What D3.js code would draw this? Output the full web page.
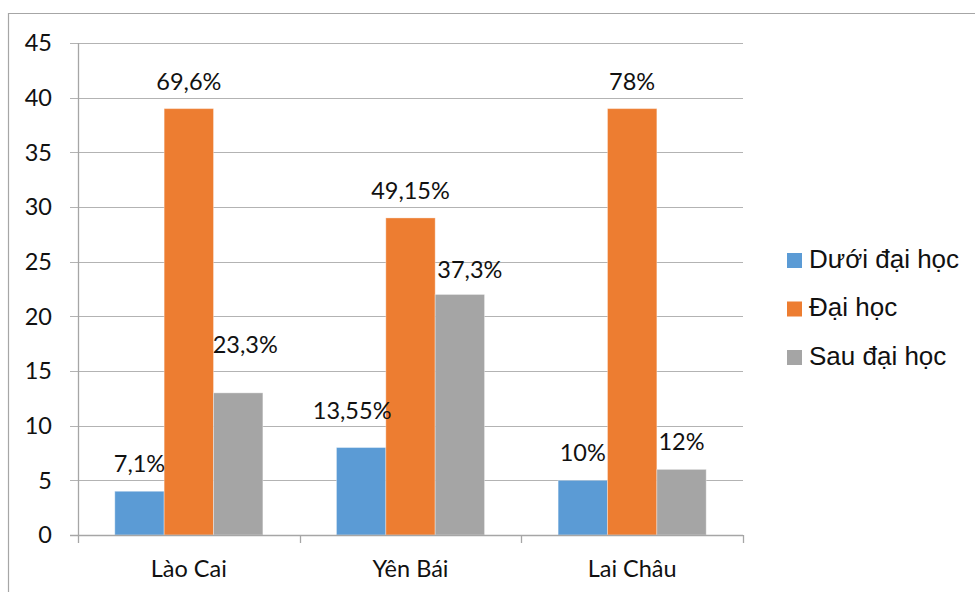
<!DOCTYPE html>
<html>
<head>
<meta charset="utf-8">
<script src="https://cdn.jsdelivr.net/npm/d3@7/dist/d3.min.js"></script>
<style>
  html, body { margin: 0; padding: 0; background: #fff; }
  svg { display: block; }
</style>
</head>
<body>
<svg id="chart" width="975" height="592"></svg>
<script>
// Provinces and education-level series
const provinces = ["Lào Cai", "Yên Bái", "Lai Châu"];
const seriesNames = ["Dưới đại học", "Đại học", "Sau đại học"];
const seriesColors = ["#5B9BD5", "#ED7D31", "#A5A5A5"];

// Counts per series, one value per province
const duoiDaiHoc = [4, 8, 5];
const daiHoc = [39, 29, 39];
const sauDaiHoc = [13, 22, 6];

// Percentage labels shown above each bar
const duoiDaiHocLabels = ["7,1%", "13,55%", "10%"];
const daiHocLabels = ["69,6%", "49,15%", "78%"];
const sauDaiHocLabels = ["23,3%", "37,3%", "12%"];

const yTicks = [0, 5, 10, 15, 20, 25, 30, 35, 40, 45];

const seriesValues = [duoiDaiHoc, daiHoc, sauDaiHoc];
const seriesLabels = [duoiDaiHocLabels, daiHocLabels, sauDaiHocLabels];

// Hand placed label nudges [series][province] -> [dx, extra lift]
const labelNudge = [
  [[0, 0], [-9, 10], [0, 0]],
  [[0, 0], [0, 0], [0, 0]],
  [[7, 21], [10, -3], [0, 0]]
];

const svg = d3.select("#chart");
const W = 975, H = 592;
const plot = { left: 78, right: 743, top: 43, bottom: 535 };
const numFont = "Lato, 'Open Sans', sans-serif";
const legFont = "'Liberation Sans', Arial, sans-serif";
const numSize = 23.5;

// Outer chart-area frame (top and left edges visible)
svg.append("path")
  .attr("d", `M8.5,${H} V13.5 H${W}`)
  .attr("fill", "none")
  .attr("stroke", "#a6a6a6")
  .attr("stroke-width", 1.2);

const y = d3.scaleLinear().domain([0, 45]).range([plot.bottom, plot.top]);
const x0 = d3.scaleBand().domain(provinces).range([plot.left, plot.right]).padding(0);
const gap = x0.bandwidth() * 0.166;
const x1 = d3.scaleBand().domain(seriesNames).range([gap, x0.bandwidth() - gap]).padding(0);

// Horizontal gridlines with left tick marks
svg.append("g")
  .selectAll("line")
  .data(yTicks.filter(t => t > 0))
  .join("line")
  .attr("x1", plot.left - 8)
  .attr("x2", plot.right)
  .attr("y1", d => Math.round(y(d)) + 0.5)
  .attr("y2", d => Math.round(y(d)) + 0.5)
  .attr("stroke", "#b3b3b3")
  .attr("stroke-width", 1.2);

// Y axis labels
svg.append("g")
  .selectAll("text")
  .data(yTicks)
  .join("text")
  .attr("x", 52)
  .attr("y", d => y(d))
  .attr("dy", "0.36em")
  .attr("text-anchor", "end")
  .attr("font-family", numFont)
  .attr("font-size", numSize)
  .attr("fill", "#111")
  .text(d => d);

// Bars
const groups = svg.append("g")
  .selectAll("g")
  .data(provinces)
  .join("g")
  .attr("transform", d => `translate(${x0(d)},0)`);

groups.selectAll("rect")
  .data((p, pi) => seriesNames.map((s, si) => ({ s, si, v: seriesValues[si][pi] })))
  .join("rect")
  .attr("x", d => x1(d.s))
  .attr("y", d => y(d.v))
  .attr("width", x1.bandwidth())
  .attr("height", d => y(0) - y(d.v))
  .attr("fill", d => seriesColors[d.si])
  .attr("stroke", "#ffffff")
  .attr("stroke-opacity", 0.35)
  .attr("stroke-width", 1);

// Value labels
groups.selectAll("text")
  .data((p, pi) => seriesNames.map((s, si) => ({
    s, si, pi, v: seriesValues[si][pi], label: seriesLabels[si][pi]
  })))
  .join("text")
  .attr("x", d => x1(d.s) + x1.bandwidth() / 2 + labelNudge[d.si][d.pi][0])
  .attr("y", d => y(d.v) - 19 - labelNudge[d.si][d.pi][1])
  .attr("text-anchor", "middle")
  .attr("font-family", numFont)
  .attr("font-size", numSize)
  .attr("fill", "#111")
  .text(d => d.label);

// X axis line and category ticks
svg.append("line")
  .attr("x1", plot.left - 8)
  .attr("x2", plot.right)
  .attr("y1", plot.bottom + 0.5)
  .attr("y2", plot.bottom + 0.5)
  .attr("stroke", "#a6a6a6")
  .attr("stroke-width", 1.3);

svg.append("line")
  .attr("x1", plot.left + 0.5)
  .attr("x2", plot.left + 0.5)
  .attr("y1", plot.top)
  .attr("y2", plot.bottom + 8)
  .attr("stroke", "#a6a6a6")
  .attr("stroke-width", 1.3);

svg.append("g")
  .selectAll("line")
  .data(provinces.map(p => x0(p) + x0.bandwidth()))
  .join("line")
  .attr("x1", d => Math.round(d) + 0.5)
  .attr("x2", d => Math.round(d) + 0.5)
  .attr("y1", plot.bottom)
  .attr("y2", plot.bottom + 8)
  .attr("stroke", "#a6a6a6")
  .attr("stroke-width", 1.3);

// Category labels
svg.append("g")
  .selectAll("text")
  .data(provinces)
  .join("text")
  .attr("x", d => x0(d) + x0.bandwidth() / 2)
  .attr("y", 577)
  .attr("text-anchor", "middle")
  .attr("font-family", numFont)
  .attr("font-size", numSize)
  .attr("fill", "#111")
  .text(d => d);

// Legend
const legend = svg.append("g")
  .selectAll("g")
  .data(seriesNames)
  .join("g")
  .attr("transform", (d, i) => `translate(787,${253 + i * 48.5})`);

legend.append("rect")
  .attr("width", 15)
  .attr("height", 15)
  .attr("fill", (d, i) => seriesColors[i]);

legend.append("text")
  .attr("x", 22)
  .attr("y", 14.5)
  .attr("font-family", legFont)
  .attr("font-size", 26)
  .attr("fill", "#111")
  .text(d => d);
</script>
</body>
</html>
